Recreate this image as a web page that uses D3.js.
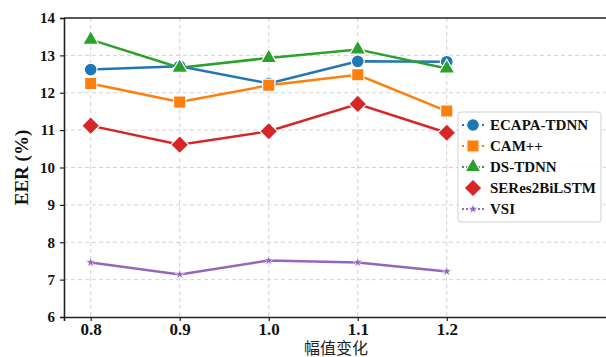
<!DOCTYPE html>
<html>
<head>
<meta charset="utf-8">
<script src="https://cdn.jsdelivr.net/npm/d3@7"></script>
<style>
  html, body { margin: 0; padding: 0; background: #fff; }
  svg { display: block; }
</style>
</head>
<body>
<svg id="chart" width="606" height="357"></svg>
<script>
// Amplitude scaling factors (x axis)
const amplitudes = [0.8, 0.9, 1.0, 1.1, 1.2];
const xTickLabels = ["0.8", "0.9", "1.0", "1.1", "1.2"];
const yTicks = [6, 7, 8, 9, 10, 11, 12, 13, 14];

// EER (%) per model
const ecapa = [12.62, 12.71, 12.25, 12.84, 12.83];
const campp = [12.25, 11.75, 12.20, 12.48, 11.51];
const dstdnn = [13.42, 12.67, 12.93, 13.16, 12.65];
const seres = [11.12, 10.61, 10.97, 11.70, 10.93];
const vsi = [7.46, 7.14, 7.51, 7.46, 7.22];

const seriesNames = ["ECAPA-TDNN", "CAM++", "DS-TDNN", "SERes2BiLSTM", "VSI"];
const seriesValues = [ecapa, campp, dstdnn, seres, vsi];
const colors = ["#1f77b4", "#ff7f0e", "#2ca02c", "#d62728", "#9467bd"];
const symbols = [d3.symbolCircle, d3.symbolSquare, d3.symbolTriangle, d3.symbolSquare, d3.symbolStar];
const symSizes = [130, 150, 110, 160, 30];
const symRotate = [0, 0, 0, 45, 0];

const svg = d3.select("#chart");
const m = { left: 64, top: 18, right: 607, bottom: 317 };

const x = d3.scaleLinear().domain([0.77, 1.38]).range([m.left, m.right]);
const y = d3.scaleLinear().domain([6, 14]).range([m.bottom, m.top]);

const serif = "'Liberation Serif', 'Times New Roman', serif";

// grid
const grid = svg.append("g");
grid.selectAll("line.gy").data(yTicks.slice(1, -1)).join("line")
  .attr("x1", m.left).attr("x2", m.right)
  .attr("y1", d => y(d)).attr("y2", d => y(d))
  .attr("stroke", "#c8c8c8").attr("stroke-width", 0.8).attr("stroke-dasharray", "4,3");
grid.selectAll("line.gx").data(amplitudes).join("line")
  .attr("x1", d => x(d)).attr("x2", d => x(d))
  .attr("y1", m.top).attr("y2", m.bottom)
  .attr("stroke", "#c8c8c8").attr("stroke-width", 0.8).attr("stroke-dasharray", "4,3");

// axes
const yAxis = d3.axisLeft(y).tickValues(yTicks).tickFormat(d3.format("d")).tickSize(4).tickPadding(5);
const gy = svg.append("g").attr("transform", `translate(${m.left},0)`).call(yAxis);
gy.select(".domain").attr("stroke", "#222").attr("stroke-width", 1.6);
gy.selectAll(".tick line").attr("stroke", "#222").attr("stroke-width", 1.2);
gy.selectAll(".tick text").attr("font-family", serif).attr("font-weight", "bold")
  .attr("font-size", 15).attr("fill", "#111");

const xAxis = d3.axisBottom(x).tickValues(amplitudes)
  .tickFormat((d, i) => xTickLabels[i]).tickSize(4).tickPadding(2);
const gx = svg.append("g").attr("transform", `translate(0,${m.bottom})`).call(xAxis);
gx.select(".domain").attr("stroke", "#222").attr("stroke-width", 1.6);
gx.selectAll(".tick line").attr("stroke", "#222").attr("stroke-width", 1.2);
gx.selectAll(".tick text").attr("font-family", serif).attr("font-weight", "bold")
  .attr("font-size", 17).attr("fill", "#111");

// top spine
svg.append("line").attr("x1", m.left).attr("x2", m.right)
  .attr("y1", m.top).attr("y2", m.top).attr("stroke", "#222").attr("stroke-width", 1.6);

// axis titles
svg.append("text").attr("transform", `translate(28,${(m.top + m.bottom) / 2}) rotate(-90)`)
  .attr("text-anchor", "middle").attr("font-family", serif).attr("font-weight", "bold")
  .attr("font-size", 19).attr("fill", "#111").text("EER (%)");
svg.append("text").attr("x", 336).attr("y", 354).attr("text-anchor", "middle")
  .attr("font-family", "'Noto Sans CJK SC', sans-serif").attr("font-size", 16)
  .attr("fill", "#222").text("幅值变化");

// series
const line = d3.line().x((d, i) => x(amplitudes[i])).y(d => y(d));
seriesValues.forEach((vals, k) => {
  const g = svg.append("g");
  g.append("path").datum(vals).attr("d", line).attr("fill", "none")
    .attr("stroke", colors[k]).attr("stroke-width", 2.5);
  g.selectAll("path.pt").data(vals).join("path").attr("class", "pt")
    .attr("transform", (d, i) => `translate(${x(amplitudes[i])},${y(d)}) rotate(${symRotate[k]})`)
    .attr("d", d3.symbol().type(symbols[k]).size(symSizes[k]))
    .attr("fill", colors[k]).attr("stroke", "#fff").attr("stroke-width", k === 4 ? 0.6 : 1.2);
});

// legend
const lg = svg.append("g").attr("transform", "translate(458,112)");
lg.append("rect").attr("x", 0).attr("y", 0).attr("width", 143).attr("height", 110).attr("rx", 3)
  .attr("fill", "#fff").attr("fill-opacity", 0.85).attr("stroke", "#d0d0d0").attr("stroke-width", 1);
seriesNames.forEach((name, k) => {
  const cy = 13 + k * 21;
  if (k !== 3) {
    lg.append("line").attr("x1", 4).attr("x2", 26).attr("y1", cy).attr("y2", cy)
      .attr("stroke", colors[k]).attr("stroke-width", 2).attr("stroke-dasharray", "2,2");
  }
  lg.append("path").attr("transform", `translate(15,${cy}) rotate(${symRotate[k]})`)
    .attr("d", d3.symbol().type(symbols[k]).size(symSizes[k]))
    .attr("fill", colors[k]).attr("stroke", "#fff").attr("stroke-width", k === 4 ? 0.6 : 1.2);
  lg.append("text").attr("x", 32).attr("y", cy + 5).attr("font-family", serif)
    .attr("font-weight", "bold").attr("font-size", 15).attr("fill", "#111").text(name);
});
</script>
</body>
</html>
